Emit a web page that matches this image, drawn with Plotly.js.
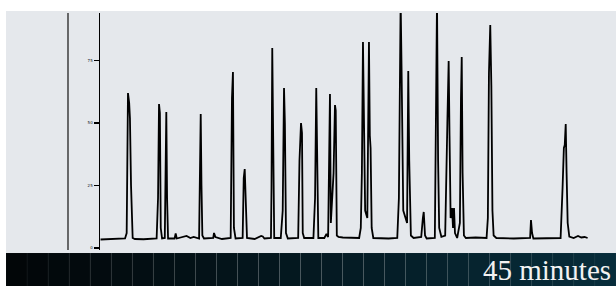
<!DOCTYPE html>
<html>
<head>
<meta charset="utf-8">
<script src="https://cdn.plot.ly/plotly-3.0.1.min.js"></script>
<style>html,body{margin:0;padding:0;background:#fff;}#chart{width:616px;height:286px;}</style>
</head>
<body>
<div id="chart"></div>
<script>
// Chromatogram signal: retention time (min) and detector signal
const time = [0.05,1.0,2.3,2.45,2.57,2.68,2.75,2.85,2.92,3.0,3.2,4.0,5.2,5.33,5.42,5.5,5.58,5.7,5.95,6.02,6.09,6.16,6.25,6.85,6.95,7.05,7.8,7.95,8.3,8.6,9.1,9.18,9.25,9.32,9.4,9.55,10.4,10.47,10.6,11.2,12.0,12.12,12.21,12.3,12.45,13.1,13.2,13.29,13.38,13.5,14.2,14.8,14.95,15.1,15.7,15.75,15.82,15.9,16.0,16.6,16.78,16.9,16.98,17.08,17.25,18.2,18.32,18.46,18.55,18.62,18.75,19.6,19.75,19.86,19.95,20.05,20.6,20.8,20.95,21.05,21.12,21.2,21.45,21.58,21.65,21.75,21.9,22.3,23.8,23.95,24.05,24.15,24.25,24.35,24.55,24.62,24.70,24.78,24.85,24.95,25.1,26.5,27.3,27.45,27.61,27.7,27.85,28.2,28.31,28.4,28.55,28.8,29.5,29.65,29.73,29.85,30.0,30.75,30.87,30.95,31.05,31.15,31.35,31.7,31.9,32.02,32.1,32.2,32.33,32.42,32.51,32.6,32.8,33.05,33.15,33.22,33.3,33.42,33.6,34.5,35.5,35.62,35.72,35.84,35.94,36.04,36.15,36.4,38.0,39.2,39.5,39.58,39.68,39.8,41.5,42.3,42.48,42.6,42.68,42.77,42.85,42.95,43.1,43.5,43.9,44.2,44.5,44.78];
const signal = [3.4,3.6,3.8,6,62,58,52,25,12,4,3.6,3.5,3.8,20,57.6,54,8,3.8,4,40,54.4,20,3.8,3.8,5.8,3.8,4.4,4.8,4.0,4.4,3.8,30,53.6,25,5,3.8,4.0,6.0,4.4,3.6,4.0,60,70.4,8,3.8,4.0,28,31.6,20,4,3.6,4.8,4.6,3.8,4,24,80,30,4,4,15,64,50,6,3.8,4.0,35,50,46,6,4,4,20,64,34,4,4,5.6,4.4,46,61.6,10,30,57.2,55,5,4.4,4.2,4,8,30,82.4,40,15,12,60,82.4,45,40,8,4,3.8,4,20,99,70,15,10,70.8,35,5,4,4.4,12,14.4,5,3.8,4,50,99,35,8,4.5,5,50,74.8,45,12,16,8,16,6,4,10,60,76.4,30,5,4,4.2,4,12,70,89.2,65,15,5,4,3.8,4,4,11.2,6,3.8,4,4,24,40,41.2,49.6,30,10,4.6,4,4.8,4.2,4.4,4.0];
const yTicks = [0, 25, 50, 75];
const yTickLabels = ["0", "25", "50", "75"];
const footerLabel = "45 minutes";

// pixel helpers (plot area: x 100..590, y 13..250)
const L = 100, R = 590, T = 13, B = 250;
const px = p => (p - L) / (R - L);
const py = p => (B - p) / (B - T);

const shapes = [];
// light gray panel
shapes.push({type:'rect', xref:'paper', yref:'paper', layer:'below',
  x0:px(6), x1:px(616), y0:py(253), y1:py(11), fillcolor:'#e5e8ec', line:{width:0}});
// dark footer band as tiles (gradient with faint divisions)
const nTiles = 29, tileW = 610 / nTiles;
for (let i = 0; i < nTiles; i++) {
  const f = i / (nTiles - 1);
  const c = [2 + f * 5, 6 + f * 38, 8 + f * 50].map(v => Math.round(v));
  shapes.push({type:'rect', xref:'paper', yref:'paper', layer:'below',
    x0:px(6 + i * tileW), x1:px(6 + (i + 1) * tileW), y0:py(287), y1:py(253),
    fillcolor:`rgb(${c[0]},${c[1]},${c[2]})`, line:{color:'rgba(255,255,255,0.03)', width:1}});
}
// extra vertical rule left of axis
shapes.push({type:'line', xref:'paper', yref:'paper', x0:px(68), x1:px(68), y0:0, y1:1,
  line:{color:'#111', width:1.2}});

Plotly.newPlot('chart', [{
  x: time, y: signal, type:'scatter', mode:'lines',
  line:{color:'#000', width:1.8}, hoverinfo:'skip', cliponaxis:true
}], {
  width:616, height:286,
  margin:{l:L, r:616 - R, t:T, b:286 - B},
  paper_bgcolor:'#ffffff', plot_bgcolor:'rgba(0,0,0,0)',
  showlegend:false,
  xaxis:{range:[0,45], visible:false, fixedrange:true},
  yaxis:{range:[-0.8,94], showgrid:false, zeroline:false, showline:true, linecolor:'#000', linewidth:1.5,
    ticks:'outside', ticklen:5, tickwidth:1.2, tickcolor:'#000',
    tickvals:yTicks, ticktext:yTickLabels, tickfont:{size:4, color:'#222', family:'DejaVu Sans'}},
  shapes: shapes,
  annotations:[{text:footerLabel, xref:'paper', yref:'paper', x:px(613), y:py(269.5),
    xanchor:'right', yanchor:'middle', showarrow:false,
    font:{family:'Liberation Serif', size:29, color:'#f2f2f2'}}]
}, {staticPlot:true, displayModeBar:false});
</script>
</body>
</html>
